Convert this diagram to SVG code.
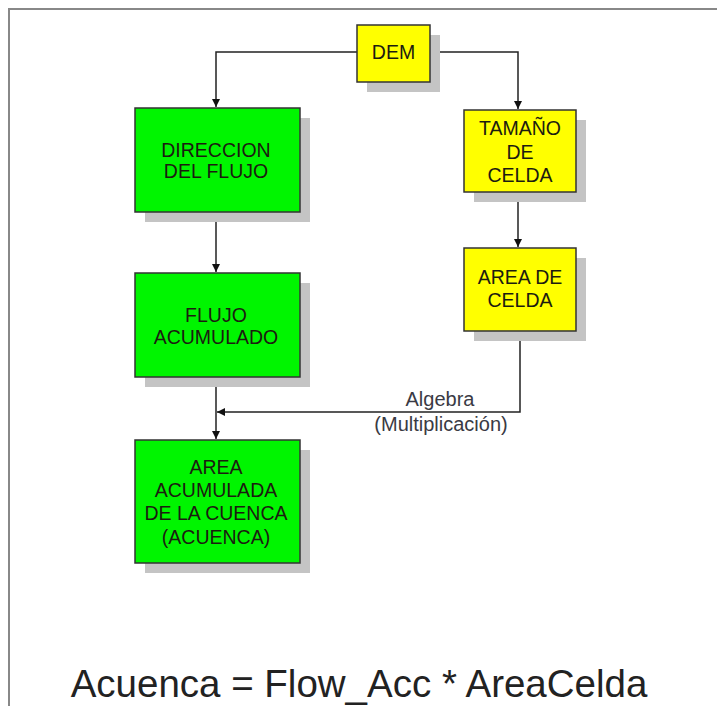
<svg xmlns="http://www.w3.org/2000/svg" width="717" height="706" viewBox="0 0 717 706">
<defs>
<marker id="ah" viewBox="0 0 10 10" refX="10" refY="5" markerWidth="8" markerHeight="8" markerUnits="userSpaceOnUse" orient="auto">
<path d="M0,0 L10,5 L0,10 z" fill="#111"/>
</marker>
<style>
.sh{fill:#c4c4c4}
.g{fill:#00f500;stroke:#333;stroke-width:1.5}
.y{fill:#ffff00;stroke:#333;stroke-width:1.5}
.t{font-family:"Liberation Sans",Arial,sans-serif;font-size:19.5px;fill:#1c1c10;text-anchor:middle}
.c{fill:none;stroke:#222;stroke-width:1.5}
.lbl{font-family:"Liberation Sans",Arial,sans-serif;font-size:20px;fill:#3a3a44;text-anchor:middle}
</style>
</defs>
<rect width="717" height="706" fill="#fff"/>
<path d="M9,706 V9 H717" fill="none" stroke="#888" stroke-width="2"/>
<g id="connectors">
<path class="c" d="M357,52 H216 V107" marker-end="url(#ah)"/>
<path class="c" d="M430,52 H518 V109" marker-end="url(#ah)"/>
<path class="c" d="M216,212 V272" marker-end="url(#ah)"/>
<path class="c" d="M518,192 V247" marker-end="url(#ah)"/>
<path class="c" d="M216,377 V439" marker-end="url(#ah)"/>
<path class="c" d="M520,331 V412 H217" marker-end="url(#ah)"/>
</g>
<g id="lbl-algebra">
<text class="lbl" x="440" y="406">Algebra</text>
<text class="lbl" x="441" y="431">(Multiplicación)</text>
</g>
<g id="dem">
<rect class="sh" x="367" y="35" width="73" height="57"/>
<rect class="y" x="357" y="25" width="73" height="57"/>
<text class="t" x="393.5" y="59">DEM</text>
</g>
<g id="direccion">
<rect class="sh" x="145" y="118" width="165" height="104"/>
<rect class="g" x="135" y="108" width="165" height="104"/>
<text class="t" x="216" y="157">DIRECCION</text>
<text class="t" x="216" y="178">DEL FLUJO</text>
</g>
<g id="flujo">
<rect class="sh" x="145" y="283" width="165" height="104"/>
<rect class="g" x="135" y="273" width="165" height="104"/>
<text class="t" x="216" y="322">FLUJO</text>
<text class="t" x="216" y="344">ACUMULADO</text>
</g>
<g id="area-acum">
<rect class="sh" x="145" y="450" width="165" height="123"/>
<rect class="g" x="135" y="440" width="165" height="123"/>
<text class="t" x="216" y="474">AREA</text>
<text class="t" x="216" y="497">ACUMULADA</text>
<text class="t" x="216" y="520">DE LA CUENCA</text>
<text class="t" x="216" y="544">(ACUENCA)</text>
</g>
<g id="tamano">
<rect class="sh" x="474" y="120" width="112" height="82"/>
<rect class="y" x="464" y="110" width="112" height="82"/>
<text class="t" x="520" y="135">TAMAÑO</text>
<text class="t" x="520" y="159">DE</text>
<text class="t" x="520" y="182">CELDA</text>
</g>
<g id="area-celda">
<rect class="sh" x="474" y="258" width="112" height="83"/>
<rect class="y" x="464" y="248" width="112" height="83"/>
<text class="t" x="520" y="284">AREA DE</text>
<text class="t" x="520" y="307">CELDA</text>
</g>
<text x="359" y="697" font-family="'Liberation Sans',Arial,sans-serif" font-size="38.5" fill="#222" text-anchor="middle">Acuenca = Flow_Acc * AreaCelda</text>
</svg>
